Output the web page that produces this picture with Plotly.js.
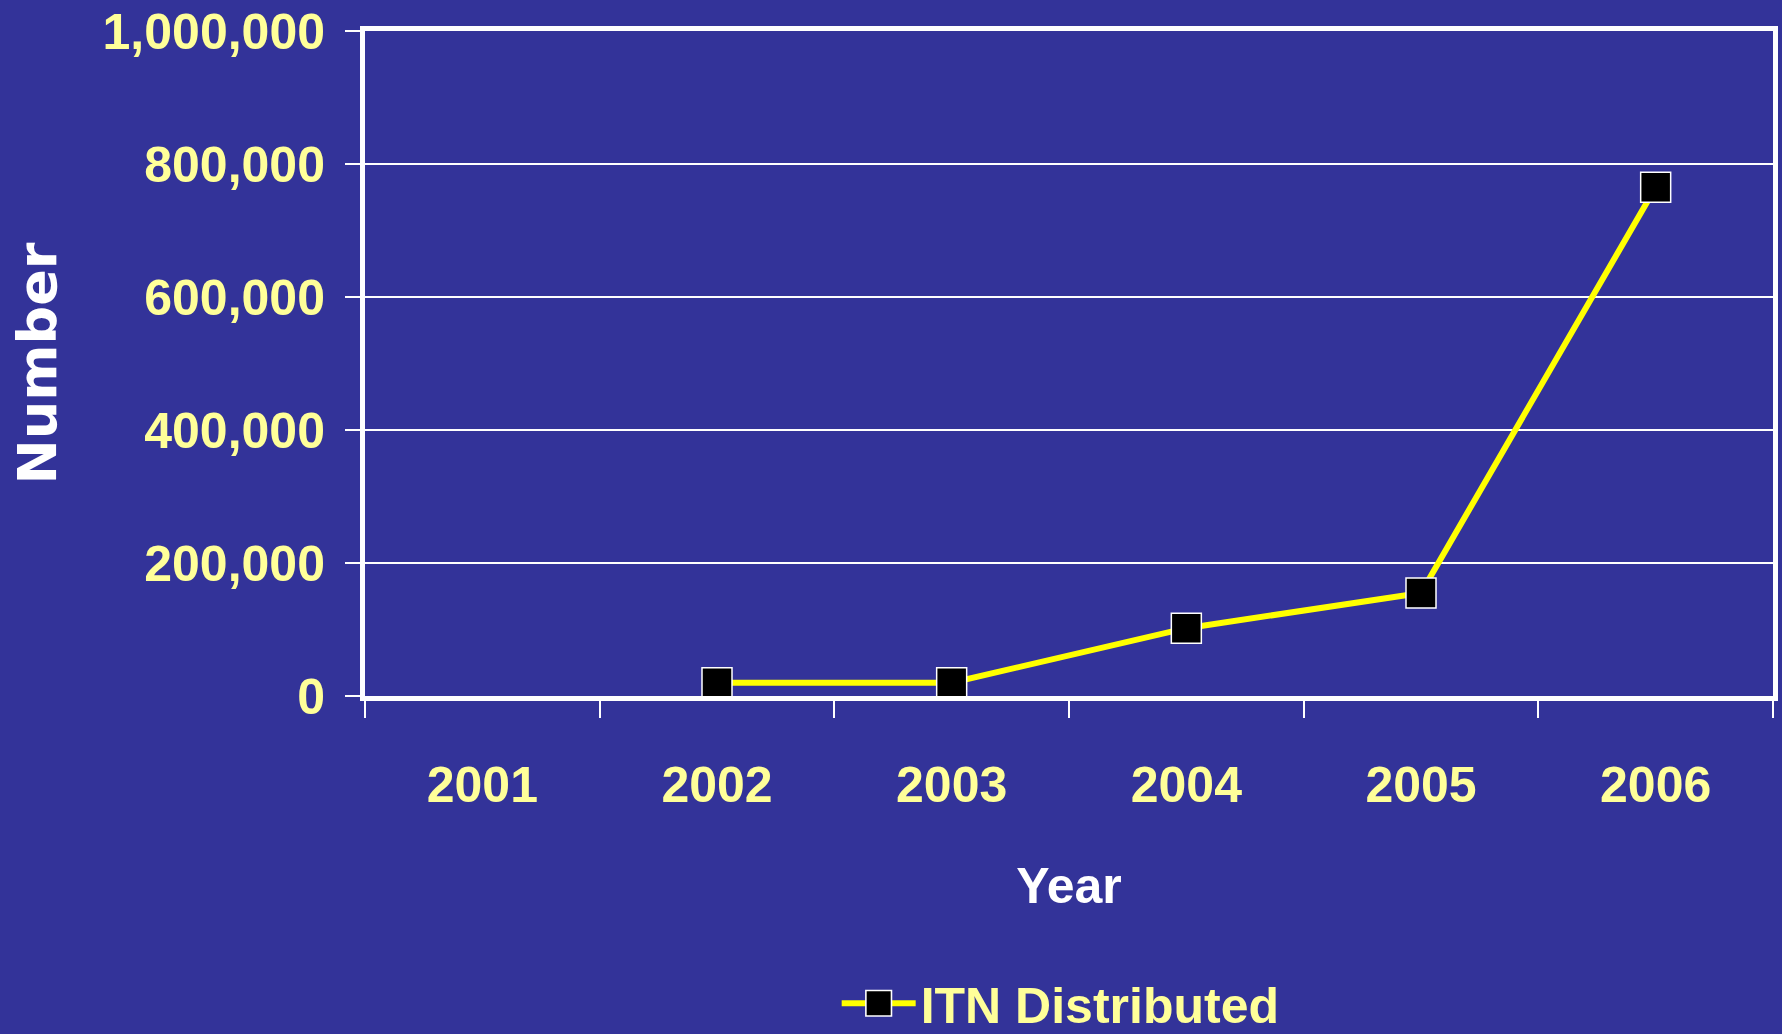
<!DOCTYPE html>
<html>
<head>
<meta charset="utf-8">
<script src="https://cdn.plot.ly/plotly-3.0.1.min.js"></script>
<style>
  html, body { margin: 0; padding: 0; background: #333399; }
  #chart { width: 1782px; height: 1034px; }
</style>
</head>
<body>
<div id="chart"></div>
<script>
const years = ['2001', '2002', '2003', '2004', '2005', '2006'];
const itnYears = ['2002', '2003', '2004', '2005', '2006'];
const itnDistributed = [20000, 20000, 102000, 155000, 765000];
const seriesName = 'ITN Distributed';
const yTickVals = [0, 200000, 400000, 600000, 800000, 1000000];
const yTickText = ['0', '200,000', '400,000', '600,000', '800,000', '1,000,000'];

const bg = '#333399';
const labelYellow = '#FFFF99';
const fontFam = '"Liberation Sans", Arial, sans-serif';

const trace = {
  type: 'scatter',
  mode: 'lines+markers',
  x: itnYears,
  y: itnDistributed,
  name: seriesName,
  line: { color: '#FFFF00', width: 6 },
  marker: { symbol: 'square', size: 30, color: '#000000', line: { color: '#FFFFFF', width: 1.5 } },
  showlegend: true,
  cliponaxis: false
};

const layout = {
  width: 1782,
  height: 1034,
  paper_bgcolor: bg,
  plot_bgcolor: bg,
  margin: { l: 365, r: 9, t: 31, b: 338, pad: 0, autoexpand: false },
  font: { family: fontFam, color: labelYellow },
  xaxis: {
    type: 'category',
    categoryorder: 'array',
    categoryarray: years,
    range: [-0.5, 5.5],
    tickson: 'boundaries',
    ticks: 'outside',
    ticklen: 17,
    tickwidth: 2,
    tickcolor: '#FFFFFF',
    showline: true,
    linecolor: '#FFFFFF',
    linewidth: 5,
    mirror: true,
    showgrid: false,
    zeroline: false,
    tickfont: { family: fontFam, size: 50, weight: 'bold', color: labelYellow },
    ticklabelstandoff: 41,
    automargin: false,
    title: { text: 'Year', font: { family: fontFam, size: 50, weight: 'bold', color: '#FFFFFF' }, standoff: 57 }
  },
  yaxis: {
    range: [0, 1000000],
    tickvals: yTickVals,
    ticktext: yTickText,
    ticks: 'outside',
    ticklen: 15,
    tickwidth: 2,
    tickcolor: '#FFFFFF',
    showline: true,
    linecolor: '#FFFFFF',
    linewidth: 5,
    mirror: true,
    showgrid: true,
    gridcolor: '#FFFFFF',
    gridwidth: 2,
    zeroline: false,
    tickfont: { family: fontFam, size: 50, weight: 'bold', color: labelYellow },
    ticklabelstandoff: 10,
    automargin: false,
    title: { text: 'Number', font: { family: '"DejaVu Sans", Verdana, sans-serif', size: 54, weight: 'bold', color: '#FFFFFF' }, standoff: 30 }
  },
  showlegend: true,
  legend: {
    orientation: 'h',
    x: 0.335,
    xanchor: 'left',
    y: -0.462,
    yanchor: 'middle',
    bgcolor: 'rgba(0,0,0,0)',
    itemwidth: 74,
    font: { family: fontFam, size: 50, weight: 'bold', color: labelYellow },
    itemsizing: 'trace'
  }
};

Plotly.newPlot('chart', [trace], layout, { displayModeBar: false, staticPlot: true }).then(function (gd) {
  // enlarge the legend's marker glyph to match the reference's legend key
  gd.querySelectorAll('.legend .legendpoints path').forEach(function (p) {
    const t = p.getAttribute('transform') || '';
    p.setAttribute('transform', t + ' scale(1.6)');
    p.style.strokeWidth = '1px';
  });
});
</script>
</body>
</html>
